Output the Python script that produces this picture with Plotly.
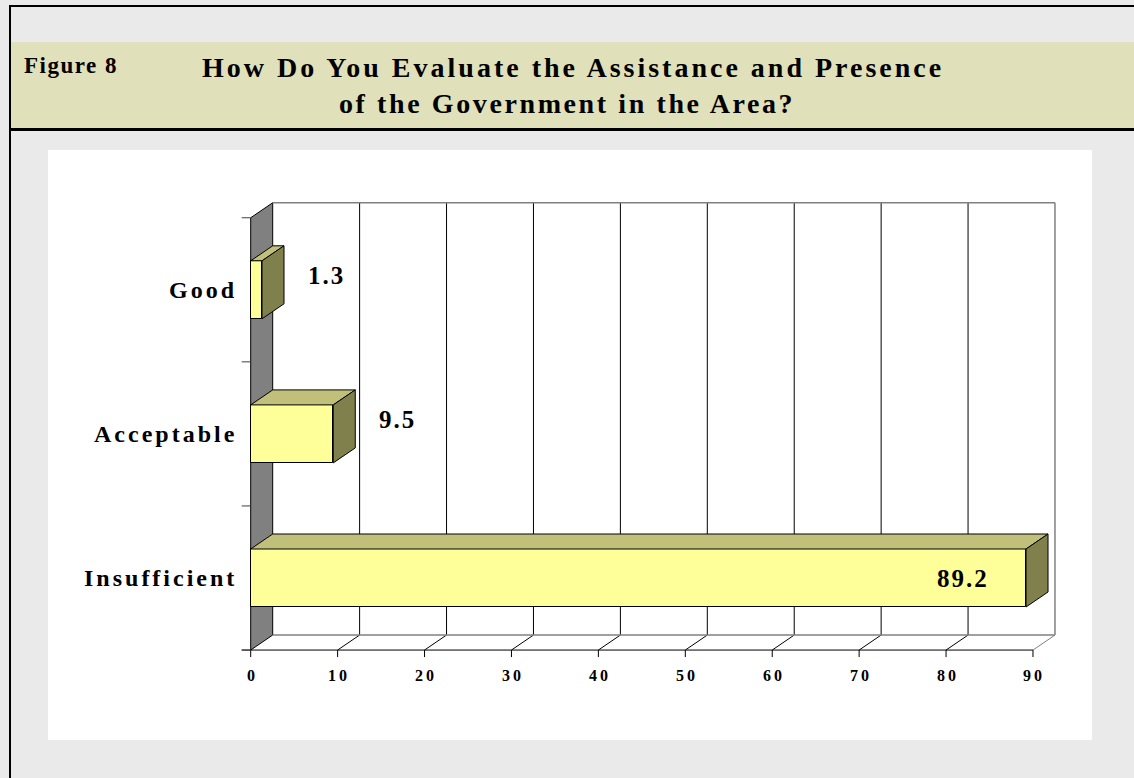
import plotly.graph_objects as go

# ---------------- data ----------------
categories = ["Insufficient", "Acceptable", "Good"]
values = [89.2, 9.5, 1.3]
value_labels = ["89.2", "9.5", "1.3"]
x_ticks = [0, 10, 20, 30, 40, 50, 60, 70, 80, 90]
x_tick_labels = ["0", "10", "20", "30", "40", "50", "60", "70", "80", "90"]
title_line1 = "How Do You Evaluate the Assistance and Presence"
title_line2 = "of the Government in the Area?"
figure_label = "Figure 8"

# ---------------- layout constants ----------------
W, H = 1134, 778
X0_PX, PX_PER_X = 250.7, 8.692      # x=0 at pixel 250.7
Y0_PX, PX_PER_Y = 578.0, 144.1      # category 0 centre at pixel 578
x_range = [(0 - X0_PX) / PX_PER_X, (W - X0_PX) / PX_PER_X]
y_range = [(Y0_PX - H) / PX_PER_Y, (Y0_PX - 0) / PX_PER_Y]
DX = 22 / PX_PER_X      # depth offset (x units)
DY = 15 / PX_PER_Y      # depth offset (y units)
BAR_W = 58 / PX_PER_Y
XMAX = x_ticks[-1]
y_lo, y_hi = -0.5, len(categories) - 0.5

FONT = "Liberation Serif"
FRONT, TOP, SIDE = "#FFFF99", "#C0C07A", "#80804C"
WALL = "#808080"

def sp(text, px):
    return f'<span style="letter-spacing:{px}px">{text}</span>'

def P(px_x, px_y):
    return px_x / W, 1 - px_y / H

shapes = []
def paper_rect(x0, y0, x1, y1, color):
    a = P(x0, y0); b = P(x1, y1)
    shapes.append(dict(type="rect", xref="paper", yref="paper", x0=a[0], y0=b[1], x1=b[0], y1=a[1],
                       fillcolor=color, line=dict(width=0), layer="below"))

# page frame
paper_rect(48, 150, 1092, 740, "white")
paper_rect(11, 42, W, 128, "#E0E0BA")
paper_rect(11, 128, W, 131, "black")
paper_rect(9, 5, W, 7, "black")
paper_rect(9, 5, 11, H, "black")

def path(pts):
    return "M " + " L ".join(f"{x},{y}" for x, y in pts) + " Z"

def dline(x0, y0, x1, y1, color="black", width=1, layer="below"):
    shapes.append(dict(type="line", xref="x", yref="y", x0=x0, y0=y0, x1=x1, y1=y1,
                       line=dict(color=color, width=width), layer=layer))

# left wall
shapes.append(dict(type="path", xref="x", yref="y",
                   path=path([(0, y_lo), (0, y_hi), (DX, y_hi + DY), (DX, y_lo + DY)]),
                   fillcolor=WALL, line=dict(color="black", width=1), layer="below"))
# back wall gridlines and floor
for t in x_ticks[1:]:
    last = t == XMAX
    dline(t + DX, y_lo + DY, t + DX, y_hi + DY, WALL if last else "black", 1.5 if last else 1)
    dline(t, y_lo, t + DX, y_lo + DY, WALL if last else "black", 1)
dline(DX, y_hi + DY, XMAX + DX, y_hi + DY, WALL, 1.5)
dline(DX, y_lo + DY, XMAX + DX, y_lo + DY, WALL, 1.5)
# front x axis + ticks
dline(-9 / PX_PER_X, y_lo, XMAX, y_lo, "black", 1)
for t in x_ticks:
    dline(t, y_lo, t, y_lo - 7 / PX_PER_Y, "black", 1)
# y ticks at category boundaries
for k in range(len(categories) + 1):
    b = k - 0.5
    dline(-9 / PX_PER_X, b, 0, b, "#404040", 1)

# bar top / side faces
for i, v in enumerate(values):
    y0, y1 = i - BAR_W / 2, i + BAR_W / 2
    shapes.append(dict(type="path", xref="x", yref="y",
                       path=path([(0, y1), (DX, y1 + DY), (v + DX, y1 + DY), (v, y1)]),
                       fillcolor=TOP, line=dict(color="black", width=1), layer="above"))
    shapes.append(dict(type="path", xref="x", yref="y",
                       path=path([(v, y0), (v, y1), (v + DX, y1 + DY), (v + DX, y0 + DY)]),
                       fillcolor=SIDE, line=dict(color="black", width=1), layer="above"))

fig = go.Figure()
fig.add_trace(go.Bar(x=values, y=list(range(len(categories))), orientation="h", width=BAR_W,
                     marker=dict(color=FRONT, line=dict(color="black", width=1)),
                     hoverinfo="skip", showlegend=False))

annotations = []
font_b = lambda s: dict(family=FONT, size=s, color="black", weight="bold")
# header
annotations.append(dict(xref="paper", yref="paper", x=22 / W, y=1 - 65 / H, xanchor="left", yanchor="middle",
                        text=sp(figure_label, 1.5), showarrow=False, font=font_b(23)))
annotations.append(dict(xref="paper", yref="paper", x=573 / W, y=1 - 68 / H, xanchor="center", yanchor="middle",
                        text=sp(title_line1, 3.0), showarrow=False, font=font_b(28)))
annotations.append(dict(xref="paper", yref="paper", x=567 / W, y=1 - 104 / H, xanchor="center", yanchor="middle",
                        text=sp(title_line2, 2.6), showarrow=False, font=font_b(28)))
# category labels
for i, c in enumerate(categories):
    annotations.append(dict(xref="x", yref="y", x=0, y=i, xanchor="right", yanchor="middle", xshift=-12,
                            text=sp(c, 3), showarrow=False, font=font_b(24)))
# value labels
for i, (v, lab) in enumerate(zip(values, value_labels)):
    inside = v + 15 > XMAX
    annotations.append(dict(xref="x", yref="y", x=v, y=i, xanchor="center", yanchor="middle",
                            xshift=(-63 if inside else 64), yshift=(0 if inside else 14),
                            text=sp(lab, 2), showarrow=False, font=font_b(25)))
# x tick labels
for t, lab in zip(x_ticks, x_tick_labels):
    annotations.append(dict(xref="x", yref="y", x=t, y=y_lo, xanchor="center", yanchor="middle",
                            xshift=1.5, yshift=-25, text=sp(lab, 3), showarrow=False, font=font_b(16)))

fig.update_layout(
    width=W, height=H, margin=dict(l=0, r=0, t=0, b=0, pad=0),
    paper_bgcolor="#EAEAEA", plot_bgcolor="rgba(0,0,0,0)",
    xaxis=dict(range=x_range, visible=False, fixedrange=True),
    yaxis=dict(range=y_range, visible=False, fixedrange=True),
    shapes=shapes, annotations=annotations, showlegend=False, bargap=0,
)
fig.write_html("out.html", config={"displayModeBar": False},
               post_script="document.body.style.margin='0';document.body.style.overflow='hidden';")
